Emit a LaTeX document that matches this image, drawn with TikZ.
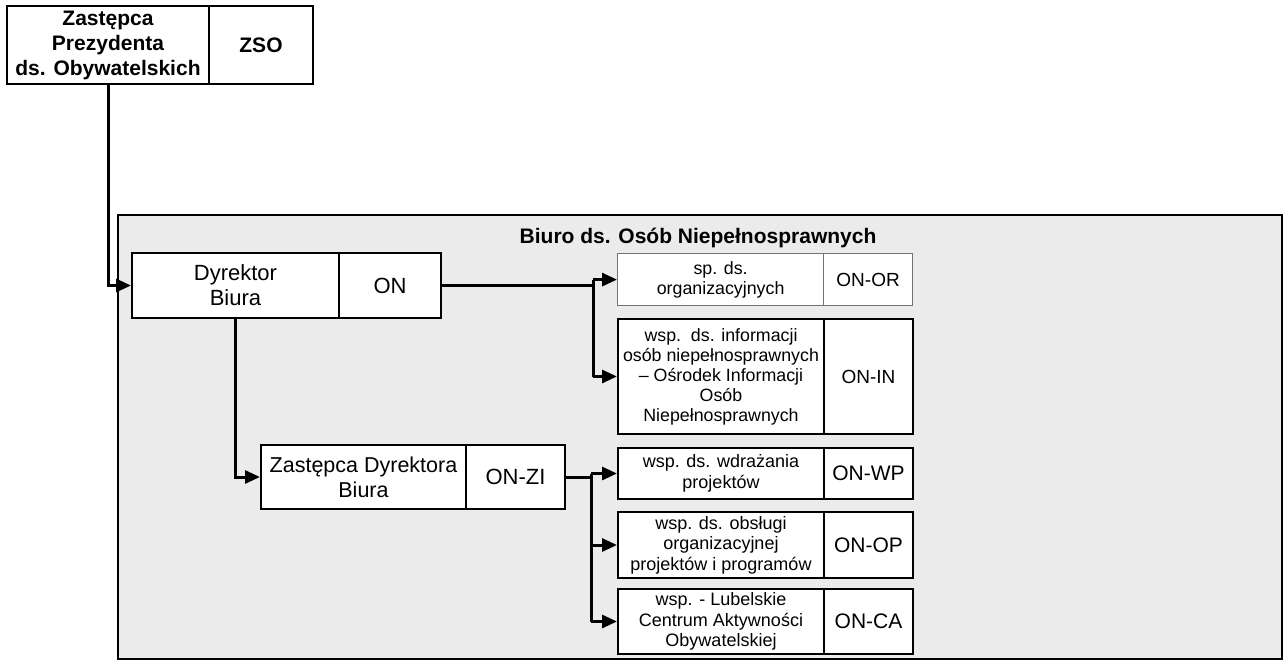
\documentclass[tikz,border=0pt]{standalone}
\usepackage{fontspec}
\setmainfont{Liberation Sans}
\usetikzlibrary{arrows.meta}
\tikzset{
  cell/.style={draw, line width=2pt, fill=white, inner sep=0pt, align=center, anchor=north west},
  conn/.style={line width=3pt},
  arr/.style={line width=3pt, -{Triangle[length=15pt,width=13pt]}},
  fbold/.style={font=\fontsize{21}{25}\selectfont\bfseries},
  fbig/.style={font=\fontsize{22}{25}\selectfont},
  fup/.style={font=\fontsize{17.8}{20}\selectfont},
  flow/.style={font=\fontsize{18}{20.5}\selectfont},
}
\begin{document}
\begin{tikzpicture}[x=1pt,y=-1pt]
\useasboundingbox (0,0) rectangle (1286,664);
\fill[white] (0,0) rectangle (1286,664);
% outer region
\node[draw, line width=1.5pt, fill=black!8, inner sep=0pt, anchor=north west,
      minimum width=1164pt, minimum height=444pt] (biuro) at (117,214) {};
\node[font=\fontsize{21}{25}\selectfont\bfseries] (title) at (698,238) {Biuro ds. Osób Niepełnosprawnych};
% top box
\node[cell, fbold, minimum width=202pt, minimum height=78pt] (zsoL) at (6,5) {Zastępca\\Prezydenta\\ds. Obywatelskich};
\node[cell, fbold, minimum width=104pt, minimum height=78pt] (zsoR) at (208,5) {ZSO};
% Dyrektor
\node[cell, fbig, minimum width=207pt, minimum height=65pt] (dyrL) at (131,252) {Dyrektor\\Biura};
\node[cell, fbig, minimum width=102pt, minimum height=65pt] (dyrR) at (338,252) {ON};
% Zastepca Dyrektora
\node[cell, font=\fontsize{21.5}{25}\selectfont, minimum width=205pt, minimum height=64pt] (zdL) at (260,444) {Zastępca Dyrektora\\Biura};
\node[cell, font=\fontsize{22}{25}\selectfont, minimum width=99pt, minimum height=64pt] (zdR) at (465,444) {ON-ZI};
% upper right boxes
\node[cell, fup, draw=black!55, line width=1.2pt, minimum width=206pt, minimum height=52pt] (spL) at (617,253) {sp. ds.\\organizacyjnych};
\node[cell, font=\fontsize{19}{20}\selectfont, draw=black!55, line width=1.2pt, minimum width=89pt, minimum height=52pt] (spR) at (823,253) {ON-OR};
\node[cell, fup, minimum width=206pt, minimum height=115pt] (inL) at (617,318) {wsp.\ \ ds. informacji\\osób niepełnosprawnych\\– Ośrodek Informacji\\Osób\\Niepełnosprawnych};
\node[cell, font=\fontsize{19}{20}\selectfont, minimum width=89pt, minimum height=115pt] (inR) at (823,318) {ON-IN};
% lower right boxes
\node[cell, flow, minimum width=206pt, minimum height=51pt] (wpL) at (617,447) {wsp. ds. wdrażania\\projektów};
\node[cell, font=\fontsize{21}{25}\selectfont, minimum width=89pt, minimum height=51pt] (wpR) at (823,447) {ON-WP};
\node[cell, flow, minimum width=206pt, minimum height=66pt] (opL) at (617,511) {wsp. ds. obsługi\\organizacyjnej\\projektów i programów};
\node[cell, font=\fontsize{21}{25}\selectfont, minimum width=89pt, minimum height=66pt] (opR) at (823,511) {ON-OP};
\node[cell, flow, minimum width=206pt, minimum height=65pt] (caL) at (617,588) {wsp. - Lubelskie\\Centrum Aktywności\\Obywatelskiej};
\node[cell, font=\fontsize{21}{25}\selectfont, minimum width=89pt, minimum height=65pt] (caR) at (823,588) {ON-CA};
% connectors
\coordinate (br1) at (593,0);
\coordinate (br2) at (591,0);
\draw[arr] (zsoL.south) |- (dyrL.west);
\draw[arr] (dyrL.south) |- (zdL.west);
\draw[conn] (dyrR.east) -- (dyrR.east -| br1);
\draw[conn] (br1 |- spL.west) -- (br1 |- inL.west);
\draw[arr] (br1 |- spL.west) -- (spL.west);
\draw[arr] (br1 |- inL.west) -- (inL.west);
\draw[conn] (zdR.east) -- (zdR.east -| br2);
\draw[conn] (br2 |- wpL.west) -- (br2 |- caL.west);
\draw[arr] (br2 |- wpL.west) -- (wpL.west);
\draw[arr] (br2 |- opL.west) -- (opL.west);
\draw[arr] (br2 |- caL.west) -- (caL.west);
\end{tikzpicture}
\end{document}
